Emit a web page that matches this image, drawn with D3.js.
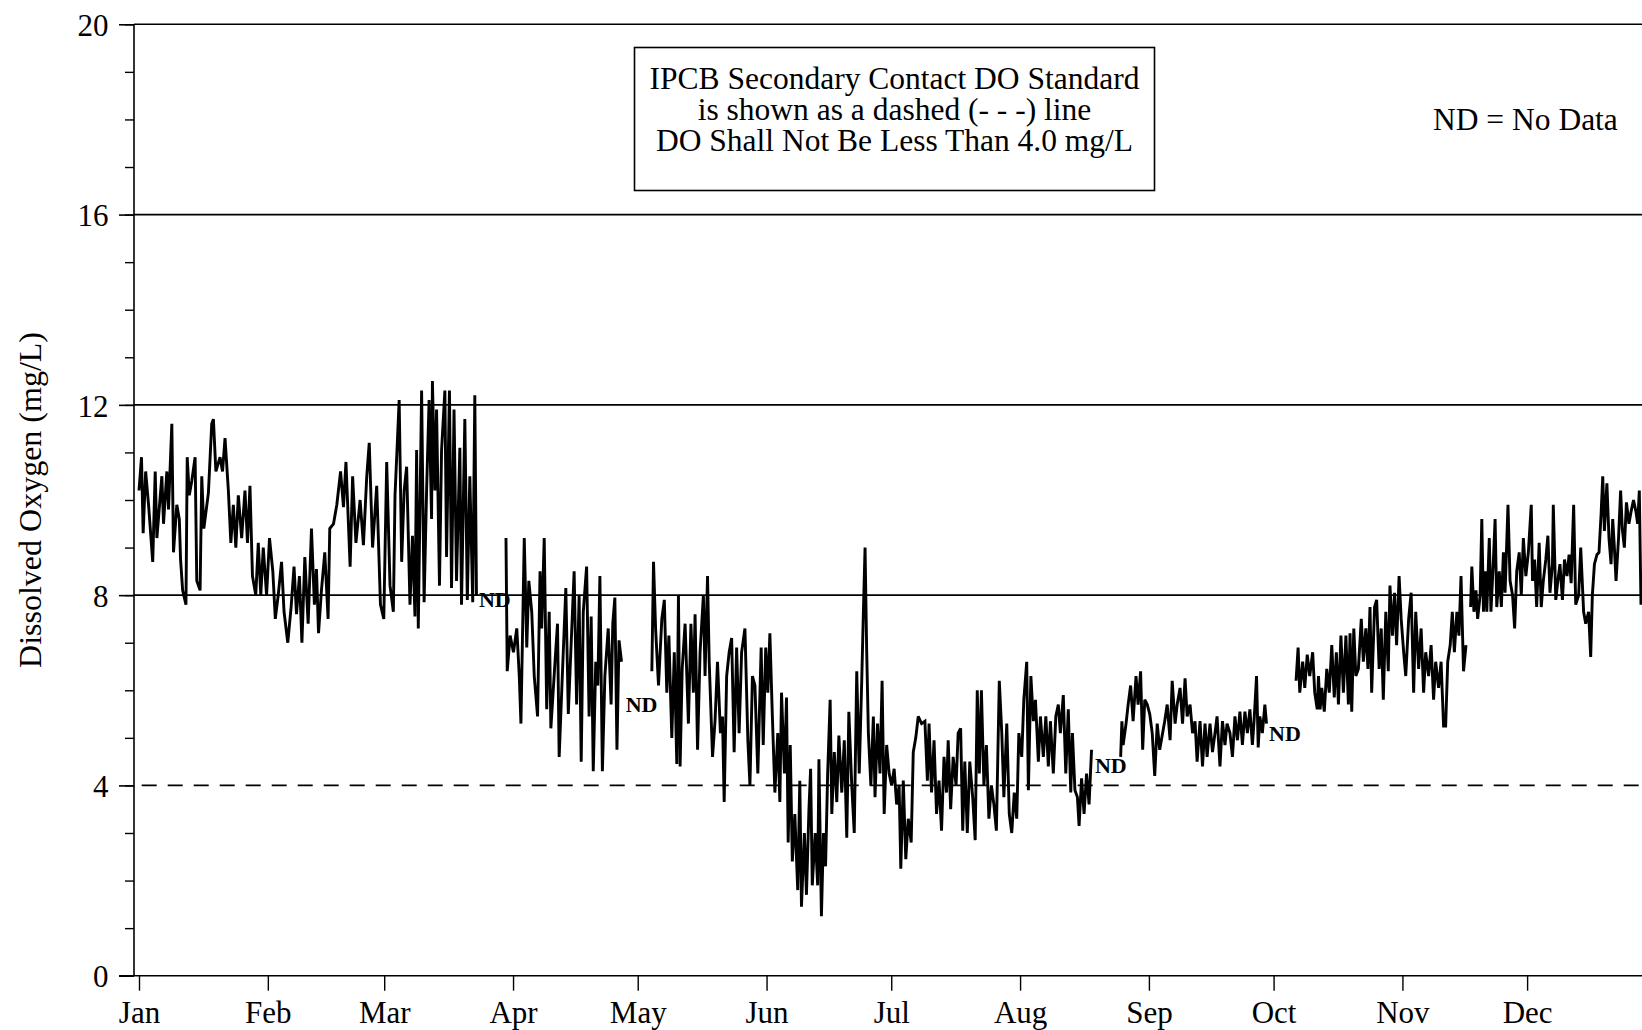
<!DOCTYPE html>
<html>
<head>
<meta charset="utf-8">
<script src="https://cdn.jsdelivr.net/npm/d3@7"></script>
<style>
  body { margin: 0; background: #fff; }
  svg { display: block; font-family: "Liberation Serif", "Times New Roman", serif; }
</style>
</head>
<body>
<div id="chart"></div>
<script>
// day of year (0 = Jan 1) and dissolved oxygen (mg/L), one array per run of data
var seg1 = [[0.0,10.2],[0.6,10.9],[1.0,9.3],[1.6,10.6],[2.3,9.9],[3.3,8.7],[3.9,10.6],[4.3,9.2],[5.5,10.5],[5.9,9.5],[6.7,10.6],[7.1,9.8],[7.9,11.6],[8.3,8.9],[9.1,9.9],[9.7,9.6],[10.0,8.75],[10.5,8.1],[11.3,7.8],[11.6,10.9],[12.1,10.1],[12.7,10.4],[13.5,10.9],[13.9,8.3],[14.7,8.1],[15.1,10.5],[15.6,9.4],[16.7,10.15],[17.5,11.6],[17.9,11.7],[18.5,10.6],[19.5,10.9],[20.1,10.6],[20.7,11.3],[21.5,10.2],[22.1,9.1],[22.7,9.9],[23.3,9.0],[23.9,10.1],[24.7,9.2],[25.5,10.2],[26.1,9.1],[26.7,10.3],[27.3,8.4],[28.1,8.0],[28.7,9.1],[29.3,8.0],[29.9,9.0],[30.7,8.0],[31.4,9.2],[32.2,8.5],[32.8,7.5],[33.5,8.0],[34.3,8.7],[34.9,7.65],[35.8,7.0],[36.6,7.75],[37.3,8.6],[37.9,7.6],[38.6,8.4],[39.2,7.0],[39.9,8.8],[40.7,7.4],[41.5,9.4],[42.2,7.8],[42.7,8.55],[43.2,7.2],[43.9,8.1],[44.7,8.9],[45.5,7.5],[45.9,9.4],[46.8,9.5],[47.6,9.9],[48.5,10.6],[49.2,9.85],[49.8,10.8],[50.8,8.6],[51.4,10.5],[52.2,9.1],[53.2,10.0],[54.0,9.05],[54.8,10.5],[55.4,11.2],[56.2,9.0],[57.2,10.3],[58.1,7.8],[58.9,7.5],[59.6,10.8],[60.4,8.2],[61.2,7.65],[61.6,10.1],[62.6,12.1],[63.2,8.7],[63.8,10.2],[64.4,10.7],[65.2,7.8],[65.8,9.25],[66.4,7.55],[66.8,11.05],[67.2,7.3],[68.0,12.3],[68.6,7.85],[69.2,10.2],[69.8,12.1],[70.4,9.6],[70.6,12.5],[71.2,10.2],[71.6,11.9],[72.3,8.2],[72.8,11.05],[73.6,12.3],[74.0,8.8],[74.7,12.3],[75.2,8.15],[75.8,11.9],[76.4,8.3],[77.2,11.1],[77.6,7.8],[78.4,11.7],[79.0,7.9],[79.6,10.5],[80.3,7.85],[80.8,12.2],[81.2,8.0]];

var seg2 = [[88.3,9.2],[88.6,6.4],[89.3,7.15],[90.1,6.8],[90.9,7.3],[91.5,6.3],[91.9,5.3],[92.7,9.2],[93.3,6.9],[93.8,8.3],[94.5,7.65],[95.1,6.3],[95.9,5.45],[96.5,8.5],[96.9,7.3],[97.5,9.2],[98.1,5.6],[98.7,7.65],[99.1,5.2],[100.1,6.6],[100.7,7.4],[101.1,4.6],[101.9,6.4],[102.7,8.15],[103.3,5.5],[103.9,6.8],[104.7,8.5],[105.3,5.7],[105.9,8.0],[106.4,4.5],[106.9,7.65],[107.7,8.6],[108.3,5.45],[108.8,7.55],[109.3,4.3],[109.9,6.6],[110.4,6.1],[110.9,8.4],[111.5,4.3],[112.1,6.3],[112.9,7.3],[113.6,5.7],[114.0,7.4],[114.5,7.95],[115.0,4.75],[115.5,7.05],[116.1,6.6]];

var seg3 = [[123.4,6.4],[123.8,8.7],[124.3,7.3],[125.0,6.1],[125.8,7.5],[126.4,7.9],[127.0,5.95],[127.5,7.15],[128.2,5.0],[128.8,6.8],[129.4,4.45],[129.8,8.0],[130.2,4.4],[130.7,6.45],[131.4,7.4],[132.2,5.3],[132.8,7.4],[133.4,5.95],[133.8,7.6],[134.4,4.75],[135.0,6.8],[135.8,8.0],[136.2,6.3],[136.8,8.4],[137.2,6.6],[138.0,4.6],[138.6,5.35],[139.2,6.6],[139.9,5.1],[140.4,5.45],[140.8,3.65],[141.4,6.3],[142.0,6.8],[142.6,7.1],[143.2,4.7],[143.8,6.9],[144.4,5.1],[145.0,6.8],[145.8,7.3],[146.5,4.95],[147.0,4.0],[147.6,6.3],[148.2,6.1],[148.9,4.25],[149.7,6.9],[150.2,4.85],[150.8,6.9],[151.3,5.95],[151.8,7.2],[152.4,5.45],[153.0,3.85],[153.7,5.1],[154.2,3.65],[154.6,5.95],[155.3,4.25],[155.8,5.85],[156.2,2.8],[156.7,4.85],[157.2,2.4],[157.8,3.4],[158.5,1.8],[159.0,4.1],[159.4,1.45],[160.1,3.0],[160.6,1.7],[161.2,3.5],[161.6,4.35],[162.0,1.9],[162.7,3.0],[163.3,1.9],[163.6,4.55],[164.2,1.25],[164.7,3.0],[165.2,2.3],[165.7,4.25],[166.3,5.8],[166.7,3.4],[167.3,4.7],[167.9,3.65],[168.4,5.05],[169.1,3.85],[169.7,4.95],[170.3,2.9],[170.8,5.55],[171.5,4.0],[172.1,3.0],[172.7,6.4],[173.3,4.25],[173.9,6.2],[174.3,7.65],[174.7,9.0],[175.1,6.8],[175.5,5.1],[176.1,4.0],[176.7,5.45],[177.1,3.75],[177.7,5.3],[178.3,4.25],[178.8,6.2],[179.3,3.4],[179.9,4.85],[180.5,4.25],[181.1,4.0],[181.7,4.35],[182.3,3.6],[182.9,4.0],[183.3,2.25],[183.9,4.1],[184.5,2.45],[185.1,3.3],[185.8,2.8],[186.3,4.7],[186.9,5.0],[187.5,5.45],[188.3,5.3],[189.1,5.35],[189.7,4.1],[190.1,5.3],[190.7,3.85],[191.3,4.95],[191.9,3.4],[192.5,4.1],[193.1,3.05],[193.7,4.6],[194.3,3.85],[194.7,4.95],[195.3,3.5],[195.9,4.6],[196.6,4.0],[197.1,5.1],[197.7,5.2],[198.2,3.05],[198.7,4.5],[199.3,3.0],[199.9,4.5],[200.6,3.75],[201.2,2.85],[201.7,6.0],[202.2,4.25],[202.7,6.0],[203.3,4.0],[203.9,4.85],[204.5,3.3],[205.1,4.0],[205.7,3.6],[206.3,3.05],[207.0,6.2],[207.6,5.1],[208.1,3.75],[208.8,5.3],[209.4,3.4],[210.0,3.0],[210.6,3.85],[211.2,3.3],[211.7,5.1],[212.4,4.6],[212.9,5.8],[213.6,6.6],[214.0,3.9],[214.6,6.3],[215.2,5.35],[215.7,5.8],[216.4,4.5],[216.9,5.45],[217.6,4.6],[218.2,5.45],[218.8,4.4],[219.3,5.35],[220.0,4.25],[220.6,5.45],[221.2,5.7],[221.7,5.1],[222.4,5.9],[223.0,4.25],[223.6,5.6],[224.2,3.85],[224.6,5.1],[225.2,3.9],[225.8,3.75],[226.2,3.15],[226.8,4.15],[227.4,3.4],[228.0,4.25],[228.6,3.6],[229.2,4.75]];

var seg4 = [[236.2,4.6],[236.5,5.35],[236.8,4.85],[237.5,5.3],[238.0,5.7],[238.6,6.1],[239.2,5.35],[239.9,6.3],[240.4,5.7],[241.0,6.4],[241.5,4.75],[242.0,5.8],[242.6,5.7],[243.2,5.5],[243.8,5.1],[244.4,4.2],[245.0,5.3],[245.6,4.75],[246.3,5.1],[246.8,5.35],[247.4,5.7],[248.1,4.95],[248.6,6.2],[249.3,5.3],[249.8,5.7],[250.5,6.05],[251.1,5.3],[251.7,6.25],[252.2,5.45],[252.9,5.7],[253.5,5.1],[254.1,5.35],[254.6,4.5],[255.3,5.35],[255.9,4.4],[256.5,5.3],[257.0,4.6],[257.7,5.3],[258.3,4.7],[258.9,5.1],[259.4,5.45],[260.1,4.4],[260.7,5.35],[261.3,4.85],[261.8,5.3],[262.5,5.1],[263.1,4.6],[263.7,5.45],[264.3,4.95],[264.9,5.55],[265.5,4.85],[266.1,5.55],[266.7,5.1],[267.3,5.6],[267.9,4.85],[268.3,5.35],[268.9,6.3],[269.3,4.8],[269.7,5.45],[270.3,5.1],[270.9,5.7],[271.3,5.3]];

var seg5 = [[278.4,6.2],[278.9,6.9],[279.3,5.95],[280.0,6.6],[280.5,6.05],[281.1,6.75],[281.7,6.3],[282.4,6.8],[282.9,5.95],[283.5,5.6],[283.8,6.3],[284.2,5.6],[284.6,6.05],[285.2,5.55],[285.8,6.45],[286.4,5.95],[287.0,6.95],[287.6,5.85],[288.1,6.8],[288.6,5.7],[289.2,7.15],[289.8,5.95],[290.4,7.15],[291.0,5.7],[291.4,7.2],[291.8,5.55],[292.3,7.3],[292.8,6.3],[293.4,6.45],[294.1,7.5],[294.6,6.6],[295.2,7.3],[295.7,6.45],[296.2,7.75],[296.6,5.95],[297.3,7.75],[297.8,7.9],[298.4,6.45],[298.9,7.3],[299.4,5.8],[300.0,7.65],[300.6,6.4],[301.0,8.2],[301.6,7.15],[302.1,8.05],[302.6,6.95],[303.2,8.4],[303.7,7.5],[304.3,6.8],[304.8,6.3],[305.5,7.5],[306.1,8.05],[306.7,5.95],[307.2,7.65],[307.9,6.45],[308.5,7.3],[309.1,5.95],[309.6,6.8],[310.3,6.3],[310.9,6.95],[311.5,5.8],[312.0,6.6],[312.7,6.05],[313.3,6.6],[313.9,5.25],[314.4,5.25],[314.9,6.6],[315.5,6.95],[316.0,7.65],[316.5,6.8],[317.1,7.65],[317.6,7.15],[318.1,8.4],[318.7,6.4],[319.3,6.95]];

var seg6 = [[320.4,7.75],[320.7,8.6],[321.2,7.65],[321.7,8.1],[322.1,7.5],[322.7,8.0],[323.1,9.6],[323.5,7.65],[323.9,8.5],[324.3,7.65],[324.9,9.2],[325.3,7.65],[325.9,8.75],[326.3,9.6],[326.7,7.75],[327.3,8.5],[327.8,7.75],[328.3,8.9],[328.7,8.05],[329.4,9.9],[329.9,8.3],[330.5,8.0],[331.0,7.3],[331.5,8.5],[332.1,8.9],[332.6,8.0],[333.1,9.2],[333.7,8.4],[334.3,8.9],[335.0,9.9],[335.3,8.3],[335.8,8.75],[336.3,7.75],[336.9,9.1],[337.4,7.75],[337.9,8.3],[338.5,8.75],[339.0,9.25],[339.5,8.05],[340.1,8.65],[340.3,9.9],[340.9,7.9],[341.4,8.3],[341.9,8.65],[342.5,7.9],[343.0,8.75],[343.6,8.4],[344.1,8.85],[344.6,8.25],[345.2,9.9],[345.7,7.8],[346.4,8.0],[346.9,9.0],[347.6,7.65],[348.1,7.4],[348.8,7.65],[349.3,6.7],[349.7,8.0],[350.2,8.65],[350.8,8.85],[351.3,8.9],[351.8,9.7],[352.2,10.5],[352.6,9.35],[353.2,10.35],[353.7,9.2],[354.2,8.65],[354.6,9.6],[355.0,9.0],[355.4,8.3],[356.0,9.2],[356.5,10.2],[356.9,9.4],[357.4,9.0],[357.9,9.95],[358.5,9.5],[359.0,9.75],[359.6,10.0],[360.2,9.75],[360.6,9.5],[361.0,10.2],[361.4,7.8]];

var segments = [seg1, seg2, seg3, seg4, seg5, seg6];

// "ND" markers: day of year and DO level where the label sits
var ndDays = [81.8, 117.1, 230.0, 271.9];
var ndLevels = [7.75, 5.55, 4.26, 4.93];

var yMajor = [0, 4, 8, 12, 16, 20];
var yMinor = d3.range(0, 21, 1);
var gridLevels = [8, 12, 16, 20];
var standard = 4.0;

var noteLines = ["IPCB Secondary Contact DO Standard",
  "is shown as a dashed (- - -) line",
  "DO Shall Not Be Less Than 4.0 mg/L"];

var W = 1642, H = 1030;
var t0 = new Date(2021, 0, 1);

function toDate(day){
  return new Date(t0.getTime() + day * 864e5);
}

var x = d3.scaleTime()
  .domain([t0, new Date(2022, 0, 1)])
  .range([139, 139 + 365 * 4.156]);

var y = d3.scaleLinear()
  .domain([0, 20])
  .range([975.7, 24.3]);

var left = 134;

var svg = d3.select("#chart")
  .append("svg")
  .attr("width", W)
  .attr("height", H);

// horizontal reference lines
svg.selectAll(".grid")
  .data(gridLevels)
  .enter()
  .append("line")
  .attr("class", "grid")
  .attr("x1", left)
  .attr("x2", W + 20)
  .attr("y1", function(d){ return y(d); })
  .attr("y2", function(d){ return y(d); })
  .attr("stroke", "#000")
  .attr("stroke-width", 1.6);

// standard, dashed
svg.append("line")
  .attr("x1", left)
  .attr("x2", W + 20)
  .attr("y1", y(standard))
  .attr("y2", y(standard))
  .attr("stroke", "#000")
  .attr("stroke-width", 1.6)
  .attr("stroke-dasharray", "15,11")
  .attr("stroke-dashoffset", 18.3);

// y axis
var yAxisMinor = d3.axisLeft(y)
  .tickValues(yMinor)
  .tickSize(9)
  .tickFormat("");

svg.append("g")
  .attr("transform", "translate(" + left + ",0)")
  .call(yAxisMinor)
  .call(function(g){ g.select(".domain").remove(); })
  .selectAll("line")
  .attr("stroke-width", 1.4);

var yAxis = d3.axisLeft(y)
  .tickValues(yMajor)
  .tickSize(15)
  .tickPadding(10.5)
  .tickFormat(d3.format("d"));

var gy = svg.append("g")
  .attr("transform", "translate(" + left + ",0)")
  .call(yAxis);

gy.select(".domain").remove();
gy.selectAll("line").attr("stroke-width", 1.6);
gy.selectAll("text")
  .attr("font-size", "31px")
  .attr("font-family", "Liberation Serif, serif")
  .attr("fill", "#000")
  .attr("dy", "0.36em");

svg.append("line")
  .attr("x1", left).attr("x2", left)
  .attr("y1", y(20)).attr("y2", y(0))
  .attr("stroke", "#000")
  .attr("stroke-width", 1.6);

// x axis
var xAxis = d3.axisBottom(x)
  .tickValues(d3.timeMonth.range(t0, new Date(2022, 0, 1)))
  .tickSize(15)
  .tickPadding(10)
  .tickFormat(d3.timeFormat("%b"));

var gx = svg.append("g")
  .attr("transform", "translate(0," + y(0) + ")")
  .call(xAxis);

gx.select(".domain").remove();
gx.selectAll("line").attr("stroke-width", 1.4);
gx.selectAll("text")
  .attr("font-size", "31px")
  .attr("font-family", "Liberation Serif, serif")
  .attr("fill", "#000");

svg.append("line")
  .attr("x1", left - 15).attr("x2", W + 20)
  .attr("y1", y(0)).attr("y2", y(0))
  .attr("stroke", "#000")
  .attr("stroke-width", 1.6);

// y label
svg.append("text")
  .attr("transform", "translate(41," + ((y(20) + y(0)) / 2) + ") rotate(-90)")
  .attr("text-anchor", "middle")
  .attr("font-size", "32px")
  .text("Dissolved Oxygen (mg/L)");

// ND labels (under the trace)
svg.selectAll(".nd")
  .data(ndDays)
  .enter()
  .append("text")
  .attr("class", "nd")
  .attr("x", function(d){ return x(toDate(d)); })
  .attr("y", function(d, i){ return y(ndLevels[i]); })
  .attr("font-size", "22px")
  .attr("font-weight", "bold")
  .text("ND");

// trace
var line = d3.line()
  .x(function(d){ return x(toDate(d[0])); })
  .y(function(d){ return y(d[1]); });

svg.selectAll(".trace")
  .data(segments)
  .enter()
  .append("path")
  .attr("class", "trace")
  .attr("d", line)
  .attr("fill", "none")
  .attr("stroke", "#000")
  .attr("stroke-width", 2.9)
  .attr("stroke-linejoin", "miter")
  .attr("stroke-miterlimit", 3);

// note box
var box = svg.append("g");

box.append("rect")
  .attr("x", 634.5)
  .attr("y", 47.5)
  .attr("width", 520)
  .attr("height", 143)
  .attr("fill", "#fff")
  .attr("stroke", "#000")
  .attr("stroke-width", 1.6);

box.selectAll(".note")
  .data(noteLines)
  .enter()
  .append("text")
  .attr("class", "note")
  .attr("x", 894.5)
  .attr("y", function(d, i){ return 89 + i * 31; })
  .attr("text-anchor", "middle")
  .attr("font-size", "31.5px")
  .text(function(d){ return d; });

svg.append("text")
  .attr("x", 1433)
  .attr("y", 130)
  .attr("font-size", "31.5px")
  .text("ND = No Data");
</script>
</body>
</html>
